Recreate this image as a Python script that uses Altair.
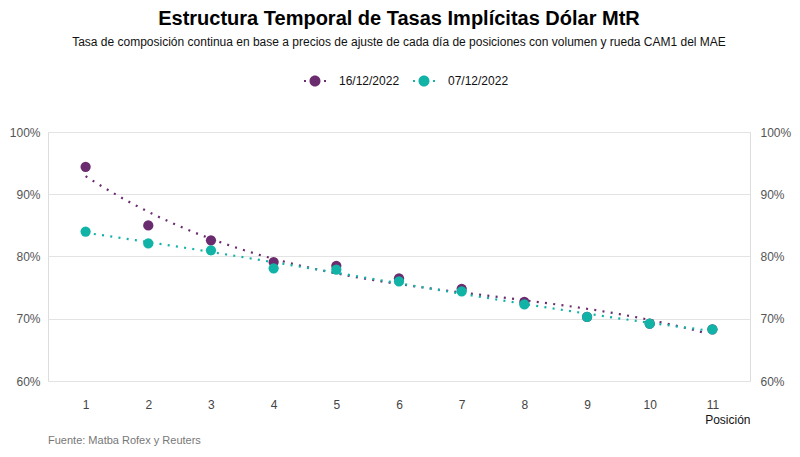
import altair as alt
import pandas as pd

posiciones = [1, 2, 3, 4, 5, 6, 7, 8, 9, 10, 11]
tasas_1612 = [0.944, 0.850, 0.826, 0.791, 0.785, 0.765, 0.748, 0.727, 0.703, 0.692, 0.683]
tasas_0712 = [0.840, 0.821, 0.810, 0.781, 0.779, 0.760, 0.744, 0.723, 0.703, 0.692, 0.683]
series = ["16/12/2022", "07/12/2022"]
colores = ["#6b2c6f", "#11b3a7"]
fuente = ["Fuente: Matba Rofex y Reuters"]

rows = []
for p, a in zip(posiciones, tasas_1612):
    rows.append({"pos": p, "tasa": a, "serie": series[0], "orden": 0})
for p, b in zip(posiciones, tasas_0712):
    rows.append({"pos": p, "tasa": b, "serie": series[1], "orden": 1})
df = pd.DataFrame(rows)

FONT = "Liberation Sans"
W, H = 702, 249

legend_symbol = ("M -0.5,0 A 0.5,0.5 0 1,1 0.5,0 A 0.5,0.5 0 1,1 -0.5,0 Z "
                 "M -1,-0.09 L -0.82,-0.09 L -0.82,0.09 L -1,0.09 Z "
                 "M 0.82,-0.09 L 1,-0.09 L 1,0.09 L 0.82,0.09 Z")
legend = alt.Legend(title=None, orient="none", direction="horizontal",
                    legendX=256, legendY=-62,
                    symbolType=legend_symbol, symbolSize=484,
                    symbolStrokeWidth=0, symbolOpacity=1, labelFont=FONT, labelFontSize=12,
                    labelColor="#111", columnPadding=13, labelOffset=13)
color_enc = alt.Color("serie:N", scale=alt.Scale(domain=series, range=colores), legend=legend)

x_enc = alt.X("pos:Q", scale=alt.Scale(domain=[0.4, 11.6], nice=False, zero=False),
              axis=alt.Axis(values=posiciones, format="d", title="Posición", titleAnchor="end",
                            titleAlign="right", titleFontWeight="normal", titleColor="#111",
                            titleFontSize=12, titleFont=FONT, titlePadding=4,
                            labelFont=FONT, labelFontSize=12, labelColor="#444",
                            labelPadding=18, grid=False, domain=False, ticks=False))
y_scale = alt.Scale(domain=[0.6, 1.0], nice=False, zero=False)
y_axis_left = alt.Axis(values=[0.6, 0.7, 0.8, 0.9, 1.0], format=".0%", title=None,
                       labelFont=FONT, labelFontSize=12, labelColor="#555",
                       labelPadding=8, gridColor="#e3e3e3", gridWidth=1,
                       domain=False, ticks=False)
y_axis_right = alt.Axis(orient="right", values=[0.6, 0.7, 0.8, 0.9, 1.0], format=".0%",
                        title=None, labelFont=FONT, labelFontSize=12, labelColor="#555",
                        labelPadding=10, grid=False, domain=False, ticks=False)

base = alt.Chart(df)

trend = base.transform_regression(
    "pos", "tasa", groupby=["serie"], method="poly", order=3, extent=[1, 10.9]
).mark_line(strokeDash=[2, 6.3], strokeWidth=2.2, strokeCap="butt").encode(
    x=x_enc,
    y=alt.Y("tasa:Q", scale=y_scale, axis=y_axis_left),
    color=color_enc,
)

points = base.mark_circle(size=105, opacity=1).encode(
    x=x_enc,
    y=alt.Y("tasa:Q", scale=y_scale, axis=y_axis_left),
    color=color_enc,
    order=alt.Order("orden:Q"),
)

left = alt.layer(trend, points)

right_axis = base.mark_point(opacity=0).encode(
    x=x_enc,
    y=alt.Y("tasa:Q", scale=y_scale, axis=y_axis_right),
)

source = alt.Chart(pd.DataFrame({"t": fuente})).mark_text(
    align="left", baseline="middle", font=FONT, fontSize=11, color="#777"
).encode(text="t:N", x=alt.value(0), y=alt.value(H + 60))

chart = alt.layer(left, right_axis, source).resolve_scale(y="independent").properties(
    width=W, height=H,
    autosize=alt.AutoSizeParams(type="none"),
    padding={"left": 40, "top": 124, "right": 42, "bottom": 68},
    title=alt.TitleParams(
        text="Estructura Temporal de Tasas Implícitas Dólar MtR",
        subtitle="Tasa de composición continua en base a precios de ajuste de cada día de posiciones con volumen y rueda CAM1 del MAE",
        font=FONT, fontSize=20, fontWeight="bold", color="#000",
        subtitleFont=FONT, subtitleFontSize=12, subtitleColor="#111",
        anchor="middle", frame="group", offset=22, subtitlePadding=8,
    ),
).configure_view(stroke=None).configure(background="white")

chart.save("out.html", embed_options={"renderer": "svg", "actions": False})
